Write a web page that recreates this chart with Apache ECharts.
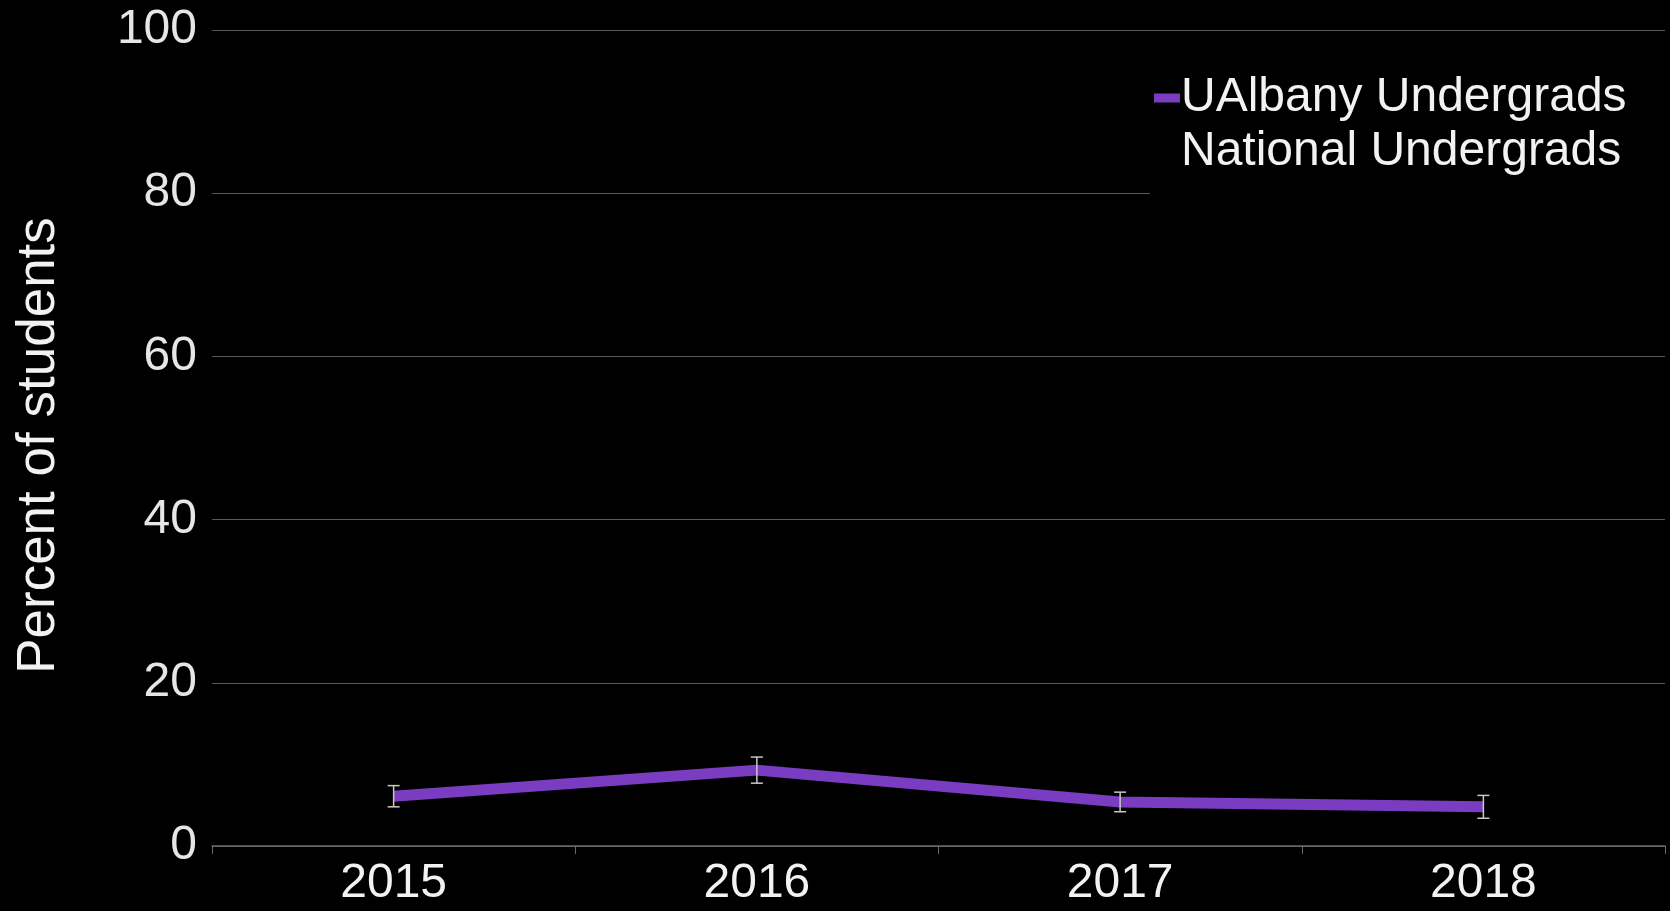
<!DOCTYPE html>
<html>
<head>
<meta charset="utf-8">
<script src="https://cdn.jsdelivr.net/npm/echarts@6/dist/echarts.min.js"></script>
<style>
  html, body { margin: 0; padding: 0; background: #000; }
  #chart { width: 1670px; height: 911px; }
</style>
</head>
<body>
<div id="chart"></div>
<script>
// values
var years = ['2015', '2016', '2017', '2018']
var ualbany = [6.1, 9.3, 5.4, 4.8]
var errLow = [4.8, 7.7, 4.2, 3.4]
var errHigh = [7.4, 10.9, 6.6, 6.2]
var yTicks = [0, 20, 40, 60, 80, 100]

var font = '"Liberation Sans", Arial, sans-serif'
var purple = '#7a3cc0'

var chart = echarts.init(document.getElementById('chart'))
chart.setOption({
  backgroundColor: '#000',
  animation: false,
  grid: { left: 212, right: 5, top: 30, bottom: 65 },
  legend: {
    orient: 'vertical',
    left: 1150,
    top: 68,
    backgroundColor: '#000',
    padding: [6, 60, 28, 4],
    itemWidth: 26,
    itemHeight: 9,
    itemGap: 6,
    textStyle: { color: '#f2f2f2', fontSize: 48, fontFamily: font, padding: [0, 0, 0, -4] },
    data: [
      { name: 'UAlbany Undergrads', icon: 'rect', itemStyle: { color: purple } },
      { name: 'National Undergrads', icon: 'rect', itemStyle: { color: '#000' } }
    ]
  },
  xAxis: {
    type: 'category',
    data: years,
    axisLine: { lineStyle: { color: '#6a6a6a', width: 1.5 } },
    axisTick: { show: true, length: 8, lineStyle: { color: '#6a6a6a' } },
    axisLabel: { color: '#f2f2f2', fontSize: 48, fontFamily: font, margin: 14 },
    splitLine: { show: false }
  },
  yAxis: {
    type: 'value',
    min: yTicks[0],
    max: yTicks[yTicks.length - 1],
    interval: 20,
    name: 'Percent of students',
    nameLocation: 'middle',
    nameRotate: 90,
    nameGap: 146,
    nameTextStyle: { color: '#f2f2f2', fontSize: 53, fontFamily: font, padding: [0, 15, 0, 0] },
    axisLine: { show: false },
    axisTick: { show: false },
    axisLabel: { color: '#e6e6e6', fontSize: 48, fontFamily: font, margin: 15 },
    splitLine: { lineStyle: { color: '#5a5a5a', width: 1.2 } }
  },
  series: [
    {
      name: 'UAlbany Undergrads',
      type: 'line',
      data: ualbany,
      symbol: 'none',
      lineStyle: { color: purple, width: 11 },
      itemStyle: { color: purple },
      z: 2
    },
    {
      name: 'National Undergrads',
      type: 'line',
      data: [],
      itemStyle: { color: '#000' }
    },
    {
      name: 'errors',
      type: 'custom',
      z: 3,
      data: years.map(function (y, i) { return [i, errLow[i], errHigh[i]] }),
      renderItem: function (params, api) {
        var lo = api.coord([api.value(0), api.value(1)])
        var hi = api.coord([api.value(0), api.value(2)])
        var w = 6
        var style = { stroke: '#c8c8c8', lineWidth: 1.5 }
        return {
          type: 'group',
          children: [
            { type: 'line', shape: { x1: lo[0], y1: lo[1], x2: hi[0], y2: hi[1] }, style: style },
            { type: 'line', shape: { x1: lo[0] - w, y1: lo[1], x2: lo[0] + w, y2: lo[1] }, style: style },
            { type: 'line', shape: { x1: hi[0] - w, y1: hi[1], x2: hi[0] + w, y2: hi[1] }, style: style }
          ]
        }
      }
    }
  ]
})
</script>
</body>
</html>
